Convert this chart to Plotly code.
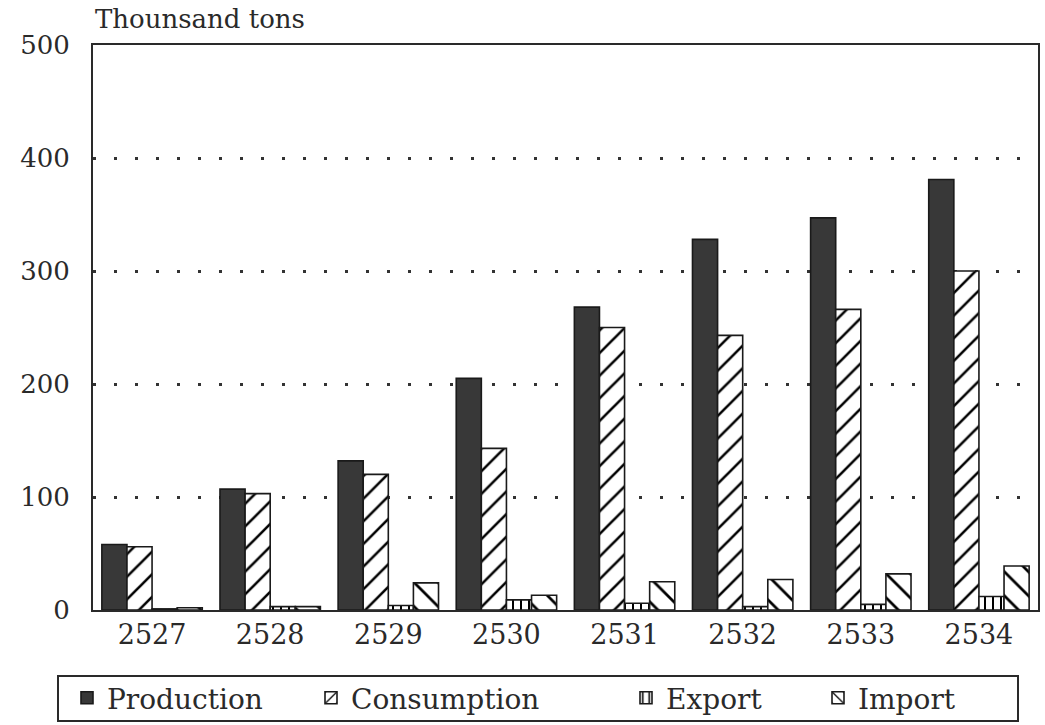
import plotly.graph_objects as go

# Annual figures, thousand tons
years = ["2527", "2528", "2529", "2530", "2531", "2532", "2533", "2534"]
production = [58, 107, 132, 205, 268, 328, 347, 381]
consumption = [56, 103, 120, 143, 250, 243, 266, 300]
export = [1, 3, 4, 9, 6, 3, 5, 12]
imports = [2, 3, 24, 13, 25, 27, 32, 39]

y_ticks = [0, 100, 200, 300, 400, 500]

INK = "#2a2a2a"
FONT = "DejaVu Serif"

# plot-area geometry in pixels (used to place legend entries and the legend frame)
W, H = 1045, 725
L, R, T, B = 93, 7, 45, 115
PW, PH = W - L - R, H - T - B


def px_x(x):
    return (x - L) / PW


def px_y(y):
    return (H - B - y) / PH


def hatch(shape, size, solidity):
    return dict(shape=shape, fgcolor="#000000", fgopacity=1, bgcolor="#ffffff",
                fillmode="replace", size=size, solidity=solidity)


series = [
    ("Production", production, dict(color="#383838")),
    ("Consumption", consumption, dict(color="#ffffff", pattern=hatch("/", 16, 0.16))),
    ("Export", export, dict(color="#ffffff", pattern=hatch("|", 8, 0.25))),
    ("Import", imports, dict(color="#ffffff", pattern=hatch("\\", 17, 0.16))),
]

# left edge (px) of each legend entry, so the entries spread across the frame
legend_left = [67, 311, 626, 818]
legend_names = ["legend", "legend2", "legend3", "legend4"]

fig = go.Figure()
for (name, vals, mk), lg in zip(series, legend_names):
    mk = dict(mk)
    mk["line"] = dict(color="#1a1a1a", width=1.6)
    fig.add_trace(go.Bar(name=name, x=years, y=vals, marker=mk, legend=lg))

legend_cfg = {}
for lg, xl in zip(legend_names, legend_left):
    legend_cfg[lg] = dict(
        x=px_x(xl), xanchor="left", y=px_y(698), yanchor="middle",
        orientation="h", borderwidth=0, bgcolor="rgba(0,0,0,0)",
        font=dict(family=FONT, size=28, color=INK), itemwidth=30,
    )

fig.update_layout(
    width=W, height=H,
    margin=dict(l=L, r=R, t=T, b=B, autoexpand=False),
    paper_bgcolor="white", plot_bgcolor="white",
    barmode="group", bargap=0.15, bargroupgap=0,
    font=dict(family=FONT, size=26, color=INK),
    showlegend=True,
    annotations=[dict(
        text="Thounsand tons", xref="paper", yref="paper",
        x=0, y=1, xanchor="left", yanchor="middle", yshift=26,
        showarrow=False, font=dict(family=FONT, size=26, color=INK),
    )],
    shapes=[dict(
        type="rect", xref="paper", yref="paper",
        x0=px_x(58), x1=px_x(1018), y0=px_y(721), y1=px_y(676),
        line=dict(color=INK, width=2), fillcolor="rgba(0,0,0,0)",
    )],
    **legend_cfg,
)

fig.update_xaxes(
    showline=True, mirror=True, linecolor=INK, linewidth=2,
    showgrid=False, ticks="", ticklabelstandoff=0, automargin=False,
    tickfont=dict(family=FONT, size=27, color=INK),
)
fig.update_yaxes(
    range=[0, 500], tickvals=y_ticks,
    showline=True, mirror=True, linecolor=INK, linewidth=2,
    showgrid=True, gridcolor="#333333", gridwidth=2.5, griddash="3px,18px",
    zeroline=False, ticks="", ticklabelstandoff=16, automargin=False,
    tickfont=dict(family=FONT, size=26, color=INK),
)

fig.write_html("out.html")
